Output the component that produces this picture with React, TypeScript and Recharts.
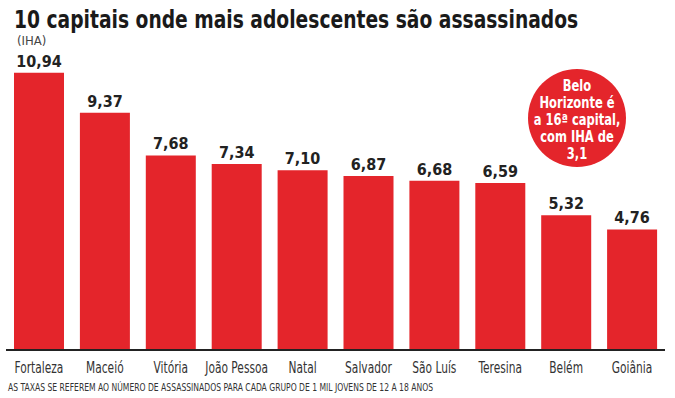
import React from "react";
import { BarChart, Bar, XAxis, YAxis, LabelList } from "recharts";

const categories = ["Fortaleza", "Maceió", "Vitória", "João Pessoa", "Natal", "Salvador", "São Luís", "Teresina", "Belém", "Goiânia"];
const values = [10.94, 9.37, 7.68, 7.34, 7.1, 6.87, 6.68, 6.59, 5.32, 4.76];
const title = "10 capitais onde mais adolescentes são assassinados";
const subtitle = "(IHA)";
const noteLines = ["Belo", "Horizonte é", "a 16ª capital,", "com IHA de", "3,1"];
const footnote = "AS TAXAS SE REFEREM AO NÚMERO DE ASSASSINADOS PARA CADA GRUPO DE 1 MIL JOVENS DE 12 A 18 ANOS";

const data = categories.map((c, i) => ({ name: c, value: values[i] }));

const RED = "#e4252b";
const COND = "'DejaVu Sans Condensed', 'DejaVu Sans', sans-serif";

const fmt = (v: any) => Number(v).toFixed(2).replace(".", ",");

const CatTick = (props: any) => {
  const { x, y, payload } = props;
  return (
    <g transform={`translate(${x},${y})`}>
      <text transform="scale(0.74,1)" x={0} y={0} dy={15} textAnchor="middle" fontFamily={COND} fontSize={16} fill="#333">
        {payload.value}
      </text>
    </g>
  );
};

export default function App() {
  return (
    <div style={{ position: "absolute", left: 0, top: 0, width: 675, height: 398, background: "#fff", overflow: "hidden" }}>
      <BarChart width={675} height={398} data={data} margin={{ top: 46, right: 10, bottom: 0, left: 6 }}>
        <YAxis hide domain={[0, 12]} />
        <XAxis
          dataKey="name"
          height={48}
          tickLine={false}
          axisLine={{ stroke: "#222", strokeWidth: 2 }}
          interval={0}
          tick={<CatTick />}
        />
        <Bar dataKey="value" fill={RED} barSize={50} isAnimationActive={false}>
          <LabelList
            dataKey="value"
            position="top"
            offset={6}
            formatter={fmt}
            style={{ fontFamily: COND, fontWeight: 700, fontSize: 16, fill: "#222" }}
          />
        </Bar>
      </BarChart>
      <svg width={675} height={398} style={{ position: "absolute", left: 0, top: 0, pointerEvents: "none" }}>
        <g transform="translate(14,28) scale(0.866,1)">
          <text x={0} y={0} fontFamily={COND} fontWeight={700} fontSize={24} fill="#1a1a1a">
            {title}
          </text>
        </g>
        <g transform="translate(17,45) scale(1,1)">
          <text x={0} y={0} fontFamily={COND} fontSize={13} fill="#444">
            {subtitle}
          </text>
        </g>
        <circle cx={577} cy={118} r={49} fill={RED} />
        <g transform="translate(577,0) scale(0.8,1)">
          {noteLines.map((l, i) => (
            <text key={i} x={0} y={91 + i * 17} textAnchor="middle" fontFamily={COND} fontWeight={700} fontSize={16} fill="#fff">
              {l}
            </text>
          ))}
        </g>
        <g transform="translate(8,391) scale(0.85,1)">
          <text x={0} y={0} fontFamily={COND} fontSize={10} fill="#333">
            {footnote}
          </text>
        </g>
      </svg>
    </div>
  );
}
